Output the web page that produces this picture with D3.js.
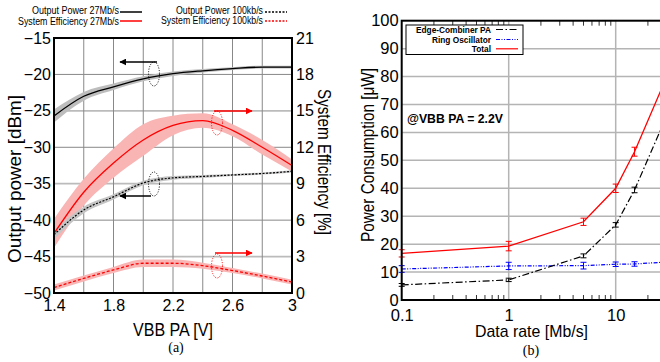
<!DOCTYPE html>
<html>
<head>
<meta charset="utf-8">
<script src="https://cdn.jsdelivr.net/npm/d3@7"></script>
<style>
  body { margin: 0; background: #fff; }
  text { font-family: "Liberation Sans", Arial, sans-serif; fill: #000; }
  .cap { font-family: "Liberation Serif", "Times New Roman", serif; }
</style>
</head>
<body>
<div id="chart"></div>
<script>
// ---- data: panel (a), output power and system efficiency vs VBB PA ----
var vbb = [1.4, 1.6, 1.8, 2.0, 2.2, 2.4, 2.6, 2.8, 3.0];
var pout27M = [-25.7, -23.0, -21.7, -20.6, -19.9, -19.5, -19.2, -19.0, -19.0];
var pout27MBand = [0.9, 0.6, 0.45, 0.35, 0.3, 0.25, 0.2, 0.2, 0.2];
var pout100k = [-42.0, -38.6, -36.8, -34.9, -34.2, -34.0, -33.8, -33.6, -33.3];
var pout100kBand = [0.6, 0.45, 0.35, 0.3, 0.25, 0.2, 0.15, 0.15, 0.15];
var eff27M = [4.9, 8.3, 10.7, 12.6, 13.8, 14.2, 13.4, 12.0, 10.5];
var eff27MBand = [1.2, 1.1, 1.2, 1.3, 0.8, 0.6, 0.5, 0.6, 0.5];
var eff100k = [0.45, 1.2, 1.9, 2.45, 2.45, 2.25, 1.85, 1.4, 0.9];
var eff100kBand = [0.25, 0.25, 0.25, 0.3, 0.3, 0.25, 0.2, 0.2, 0.2];
var doutTicks = [-50, -45, -40, -35, -30, -25, -20, -15];
var effTicks = [0, 3, 6, 9, 12, 15, 18, 21];
var vbbTicks = [1.4, 1.8, 2.2, 2.6, 3.0];
var vbbGrid = [1.6, 1.8, 2.0, 2.2, 2.4, 2.6, 2.8];

// ---- data: panel (b), power consumption vs data rate ----
var rate = [0.1, 1, 5, 10, 15, 30];
var edgePA = [5.4, 7.2, 15.8, 26.9, 39.4, 66];
var edgePAErr = [0.5, 0.6, 0.7, 0.8, 1.0, 1.0];
var ringOsc = [11.1, 12.2, 12.3, 12.8, 12.9, 13.6];
var ringOscErr = [1.2, 1.3, 1.2, 0.8, 0.8, 0.8];
var total = [16.7, 19.3, 28.0, 40.0, 53.1, 80];
var totalErr = [1.3, 1.7, 1.3, 1.5, 1.6, 1.6];
var powerTicks = [0, 10, 20, 30, 40, 50, 60, 70, 80, 90, 100];
var rateTicks = [0.1, 1, 10];

var svgWidth = 660;
var svgHeight = 362;

var svg = d3.select("#chart")
  .append("svg")
  .attr("width", svgWidth)
  .attr("height", svgHeight);

// squeeze text to a target width (the original font is condensed)
function fit(sel, w) {
  sel.attr("textLength", w).attr("lengthAdjust", "spacingAndGlyphs");
  return sel;
}

var defs = svg.append("defs");
[["headBlack", "#000"], ["headRed", "#ff0000"]].forEach(function(m) {
  defs.append("marker")
    .attr("id", m[0])
    .attr("viewBox", "0 0 10 10")
    .attr("refX", 9).attr("refY", 5)
    .attr("markerWidth", 7).attr("markerHeight", 7)
    .attr("markerUnits", "userSpaceOnUse")
    .attr("orient", "auto")
    .append("path")
    .attr("d", "M0,0 L10,5 L0,10 z")
    .attr("fill", m[1]);
});

// =================== panel (a) ===================
var xA = d3.scaleLinear().domain([1.4, 3.0]).range([54, 292]);
var yL = d3.scaleLinear().domain([-50, -15]).range([293, 38]);
var yR = d3.scaleLinear().domain([0, 21]).range([293, 38]);

var gA = svg.append("g");

// grid
gA.selectAll("line.hgrid")
  .data(doutTicks.slice(1, -1))
  .enter()
  .append("line")
  .attr("x1", 54).attr("x2", 292)
  .attr("y1", d => yL(d)).attr("y2", d => yL(d))
  .attr("stroke", (d, i) => i % 2 ? "#888" : "#bbb")
  .attr("stroke-width", (d, i) => i % 2 ? 1 : 1.8);

gA.selectAll("line.vgrid")
  .data(vbbGrid)
  .enter()
  .append("line")
  .attr("y1", 38).attr("y2", 293)
  .attr("x1", d => xA(d)).attr("x2", d => xA(d))
  .attr("stroke", "#888")
  .attr("stroke-width", 1);

// bands
function bandArea(vals, band, y) {
  return d3.area()
    .x((d, i) => xA(vbb[i]))
    .y0((d, i) => y(vals[i] - band[i]))
    .y1((d, i) => y(vals[i] + band[i]))
    .curve(d3.curveMonotoneX)(vals);
}
function curveLine(vals, y) {
  return d3.line()
    .x((d, i) => xA(vbb[i]))
    .y(d => y(d))
    .curve(d3.curveMonotoneX)(vals);
}

gA.append("path").attr("d", bandArea(eff27M, eff27MBand, yR)).attr("fill", "#f9b4b4");
gA.append("path").attr("d", bandArea(eff100k, eff100kBand, yR)).attr("fill", "#f9b4b4");
gA.append("path").attr("d", bandArea(pout27M, pout27MBand, yL)).attr("fill", "#bdbdbd");
gA.append("path").attr("d", bandArea(pout100k, pout100kBand, yL)).attr("fill", "#c4c4c4");

gA.append("path").attr("d", curveLine(eff27M, yR))
  .attr("fill", "none").attr("stroke", "#ff0000").attr("stroke-width", 1.3);
gA.append("path").attr("d", curveLine(eff100k, yR))
  .attr("fill", "none").attr("stroke", "#ff0000").attr("stroke-width", 1.3)
  .attr("stroke-dasharray", "3,2");
gA.append("path").attr("d", curveLine(pout27M, yL))
  .attr("fill", "none").attr("stroke", "#000").attr("stroke-width", 1.3);
gA.append("path").attr("d", curveLine(pout100k, yL))
  .attr("fill", "none").attr("stroke", "#000").attr("stroke-width", 1.2)
  .attr("stroke-dasharray", "2,1.5");

// frame
gA.append("rect")
  .attr("x", 54).attr("y", 38).attr("width", 238).attr("height", 255)
  .attr("fill", "none").attr("stroke", "#000").attr("stroke-width", 2);

// arrows + dotted ellipses
var arrows = [
  {x1: 157, x2: 120, y: 62, cx: 154, cy: 74, c: "#000", m: "headBlack"},
  {x1: 151, x2: 120, y: 196, cx: 154, cy: 184, c: "#000", m: "headBlack"},
  {x1: 214, x2: 252, y: 111, cx: 217, cy: 123, c: "#ff0000", m: "headRed"},
  {x1: 215, x2: 252, y: 253, cx: 217, cy: 266, c: "#ff0000", m: "headRed"}
];
arrows.forEach(function(a) {
  gA.append("line")
    .attr("x1", a.x1).attr("x2", a.x2).attr("y1", a.y).attr("y2", a.y)
    .attr("stroke", a.c).attr("stroke-width", 1.5)
    .attr("marker-end", "url(#" + a.m + ")");
  gA.append("ellipse")
    .attr("cx", a.cx).attr("cy", a.cy).attr("rx", 5.5).attr("ry", 12)
    .attr("fill", "none").attr("stroke", a.c).attr("stroke-width", 1)
    .attr("stroke-dasharray", "1,1.5");
});

// axes (labels only)
var leftAxis = d3.axisLeft(yL).tickValues(doutTicks).tickSize(0).tickPadding(3);
var rightAxis = d3.axisRight(yR).tickValues(effTicks).tickSize(0).tickPadding(4);
var bottomAxisA = d3.axisBottom(xA).tickValues(vbbTicks).tickSize(0).tickPadding(7)
  .tickFormat(d => d === 3 ? "3" : d.toFixed(1));

[
  gA.append("g").attr("transform", "translate(54,0)").call(leftAxis),
  gA.append("g").attr("transform", "translate(292,0)").call(rightAxis),
  gA.append("g").attr("transform", "translate(0,293)").call(bottomAxisA)
].forEach(function(ax) {
  ax.select(".domain").remove();
  ax.selectAll("text").style("font-size", "16px").attr("fill", "#000");
  ax.attr("font-family", null);
});

// axis titles
fit(gA.append("text")
  .attr("transform", "translate(21,179) rotate(-90)")
  .attr("text-anchor", "middle")
  .style("font-size", "18px")
  .text("Output power [dBm]"), 168);

fit(gA.append("text")
  .attr("transform", "translate(318,162) rotate(90)")
  .attr("text-anchor", "middle")
  .style("font-size", "18px")
  .text("System Efficiency [%]"), 146);

fit(gA.append("text")
  .attr("x", 173).attr("y", 336)
  .attr("text-anchor", "middle")
  .style("font-size", "18px")
  .text("VBB PA [V]"), 80);

gA.append("text")
  .attr("class", "cap")
  .attr("x", 176).attr("y", 352)
  .attr("text-anchor", "middle")
  .style("font-size", "14px")
  .text("(a)");

// legend (a)
var legA = [
  {t: "Output Power 27Mb/s", x: 119, y: 13.5, lx: 120, ly: 12, w: 87, c: "#000", dash: null},
  {t: "System Efficiency 27Mb/s", x: 119, y: 24.5, lx: 120, ly: 21, w: 101, c: "#ff0000", dash: null},
  {t: "Output Power 100kb/s", x: 263, y: 13.5, lx: 265, ly: 12, w: 87, c: "#000", dash: "2,1.5"},
  {t: "System Efficiency 100kb/s", x: 263, y: 24, lx: 265, ly: 21, w: 102, c: "#ff0000", dash: "2,1.5"}
];
legA.forEach(function(l) {
  fit(gA.append("text")
    .attr("x", l.x).attr("y", l.y)
    .attr("text-anchor", "end")
    .style("font-size", "10px")
    .text(l.t), l.w);
  gA.append("line")
    .attr("x1", l.lx).attr("x2", l.lx + 22).attr("y1", l.ly).attr("y2", l.ly)
    .attr("stroke", l.c).attr("stroke-width", 1.5)
    .attr("stroke-dasharray", l.dash);
});

// =================== panel (b) ===================
var xB = d3.scaleLog().domain([0.1, 100]).range([401.7, 722.7]);
var yB = d3.scaleLinear().domain([0, 100]).range([300, 20.7]);

var gB = svg.append("g");

gB.selectAll("line.hgrid")
  .data(powerTicks.slice(1, -1))
  .enter()
  .append("line")
  .attr("x1", 401.7).attr("x2", 722.7)
  .attr("y1", d => yB(d)).attr("y2", d => yB(d))
  .attr("stroke", "#b4b4b4").attr("stroke-width", 1.5);

gB.selectAll("line.vgrid")
  .data([1, 10])
  .enter()
  .append("line")
  .attr("x1", d => xB(d)).attr("x2", d => xB(d))
  .attr("y1", 20.7).attr("y2", 300)
  .attr("stroke", "#b4b4b4").attr("stroke-width", 1.5);

// minor log ticks, top and bottom
var minor = [];
[0.1, 1, 10].forEach(function(dec) {
  for (var k = 2; k <= 9; k++) minor.push(dec * k);
});
gB.selectAll("line.mtb")
  .data(minor)
  .enter()
  .append("line")
  .attr("x1", d => xB(d)).attr("x2", d => xB(d))
  .attr("y1", 300).attr("y2", 295)
  .attr("stroke", "#000").attr("stroke-width", 0.8);
gB.selectAll("line.mtt")
  .data(minor)
  .enter()
  .append("line")
  .attr("x1", d => xB(d)).attr("x2", d => xB(d))
  .attr("y1", 20.7).attr("y2", 25.7)
  .attr("stroke", "#000").attr("stroke-width", 0.8);

var seriesB = [
  {vals: ringOsc, err: ringOscErr, c: "#0000ff", dash: "4,1.5,1,1.5,1,1.5", w: 1.2},
  {vals: edgePA, err: edgePAErr, c: "#000", dash: "7,2.5,1.5,2.5", w: 1.2},
  {vals: total, err: totalErr, c: "#ff0000", dash: null, w: 1.3}
];
seriesB.forEach(function(s) {
  gB.append("path")
    .attr("d", d3.line().x((d, i) => xB(rate[i])).y(d => yB(d))(s.vals))
    .attr("fill", "none").attr("stroke", s.c).attr("stroke-width", s.w)
    .attr("stroke-dasharray", s.dash);
  var eb = gB.selectAll(null)
    .data(s.vals)
    .enter()
    .append("g")
    .attr("stroke", s.c).attr("stroke-width", 1);
  eb.append("line")
    .attr("x1", (d, i) => xB(rate[i])).attr("x2", (d, i) => xB(rate[i]))
    .attr("y1", (d, i) => yB(d - s.err[i])).attr("y2", (d, i) => yB(d + s.err[i]));
  eb.append("line")
    .attr("x1", (d, i) => xB(rate[i]) - 3).attr("x2", (d, i) => xB(rate[i]) + 3)
    .attr("y1", (d, i) => yB(d - s.err[i])).attr("y2", (d, i) => yB(d - s.err[i]));
  eb.append("line")
    .attr("x1", (d, i) => xB(rate[i]) - 3).attr("x2", (d, i) => xB(rate[i]) + 3)
    .attr("y1", (d, i) => yB(d + s.err[i])).attr("y2", (d, i) => yB(d + s.err[i]));
});

// frame
gB.append("rect")
  .attr("x", 401.7).attr("y", 20.7).attr("width", 321).attr("height", 279.3)
  .attr("fill", "none").attr("stroke", "#000").attr("stroke-width", 2);

var leftAxisB = d3.axisLeft(yB).tickValues(powerTicks).tickSize(0).tickPadding(3);
var bottomAxisB = d3.axisBottom(xB).tickValues(rateTicks).tickSize(0).tickPadding(9)
  .tickFormat(d => d < 1 ? "0.1" : String(d));

[
  gB.append("g").attr("transform", "translate(401.7,0)").call(leftAxisB),
  gB.append("g").attr("transform", "translate(0,300)").call(bottomAxisB)
].forEach(function(ax) {
  ax.select(".domain").remove();
  ax.selectAll("text").style("font-size", "16.5px").attr("fill", "#000");
  ax.attr("font-family", null);
});

fit(gB.append("text")
  .attr("transform", "translate(374,155) rotate(-90)")
  .attr("text-anchor", "middle")
  .style("font-size", "18px")
  .text("Power Consumption [\u03bcW]"), 174);

fit(gB.append("text")
  .attr("x", 531.5).attr("y", 337)
  .attr("text-anchor", "middle")
  .style("font-size", "17px")
  .text("Data rate [Mb/s]"), 113);

gB.append("text")
  .attr("class", "cap")
  .attr("x", 531).attr("y", 355)
  .attr("text-anchor", "middle")
  .style("font-size", "14px")
  .text("(b)");

fit(gB.append("text")
  .attr("x", 407).attr("y", 123)
  .style("font-size", "12.5px")
  .style("font-weight", "bold")
  .text("@VBB PA = 2.2V"), 96);

// legend (b)
gB.append("rect")
  .attr("x", 406).attr("y", 25).attr("width", 117).attr("height", 29.5)
  .attr("fill", "#fff").attr("stroke", "#000").attr("stroke-width", 1);
var legB = [
  {t: "Edge-Combiner PA", y: 29.5, s: seriesB[1]},
  {t: "Ring Oscillator", y: 39.5, s: seriesB[0]},
  {t: "Total", y: 48.8, s: seriesB[2]}
];
legB.forEach(function(l) {
  gB.append("text")
    .attr("x", 491).attr("y", l.y + 3)
    .attr("text-anchor", "end")
    .style("font-size", "8.3px")
    .style("font-weight", "bold")
    .text(l.t);
  gB.append("line")
    .attr("x1", 496).attr("x2", 518).attr("y1", l.y).attr("y2", l.y)
    .attr("stroke", l.s.c).attr("stroke-width", 1.2)
    .attr("stroke-dasharray", l.s.dash);
});
</script>
</body>
</html>
